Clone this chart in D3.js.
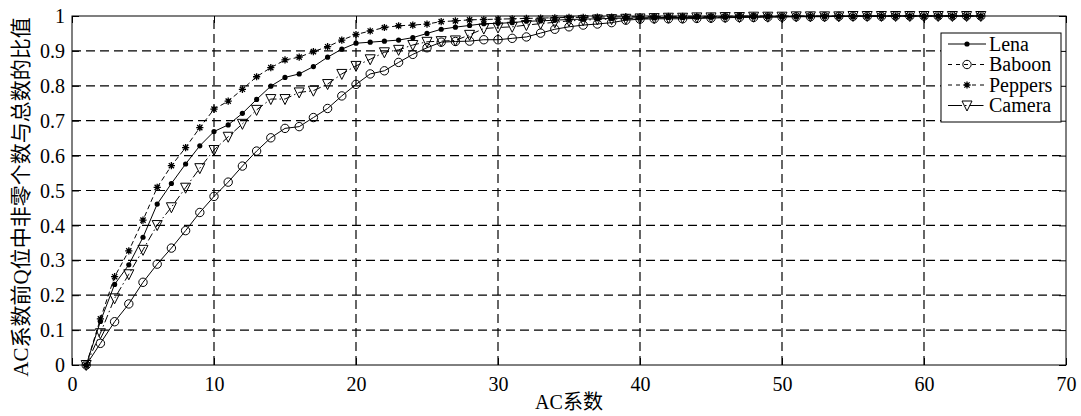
<!DOCTYPE html>
<html>
<head>
<meta charset="utf-8">
<script src="https://cdn.jsdelivr.net/npm/d3@7/dist/d3.min.js"></script>
<style>
  html, body { margin: 0; padding: 0; background: #fff; }
  svg { display: block; }
  text { font-family: "Liberation Serif", "Noto Sans CJK SC", serif; fill: #000; }
</style>
</head>
<body>
<svg id="chart" width="1081" height="416"></svg>
<script>
// ---------- data ----------
const acIndex = [1,2,3,4,5,6,7,8,9,10,11,12,13,14,15,16,17,18,19,20,21,22,23,24,25,26,27,28,29,30,31,32,
  33,34,35,36,37,38,39,40,41,42,43,44,45,46,47,48,49,50,51,52,53,54,55,56,57,58,59,60,61,62,63,64];

const lena = [0, 0.125, 0.231, 0.287, 0.366, 0.461, 0.520, 0.576, 0.628, 0.669,
  0.688, 0.721, 0.761, 0.799, 0.824, 0.834, 0.855, 0.882, 0.905, 0.922,
  0.925, 0.928, 0.931, 0.938, 0.950, 0.962, 0.968, 0.973, 0.978, 0.979,
  0.981, 0.985, 0.986, 0.988, 0.990, 0.991, 0.992, 0.993, 0.994, 0.995,
  0.995, 0.996, 0.996, 0.997, 0.997, 0.997, 0.998, 0.998, 0.998, 0.998,
  0.999, 0.999, 0.999, 0.999, 0.999, 1, 1, 1, 1, 1,
  1, 1, 1, 1];

const baboon = [0, 0.062, 0.124, 0.175, 0.237, 0.289, 0.335, 0.385, 0.437, 0.483,
  0.524, 0.570, 0.613, 0.651, 0.678, 0.683, 0.709, 0.735, 0.771, 0.804,
  0.834, 0.843, 0.867, 0.890, 0.909, 0.925, 0.927, 0.928, 0.932, 0.932,
  0.936, 0.940, 0.951, 0.962, 0.969, 0.974, 0.977, 0.981, 0.988, 0.991,
  0.992, 0.992, 0.992, 0.993, 0.994, 0.995, 0.996, 0.996, 0.997, 0.997,
  0.998, 0.998, 0.998, 0.999, 0.999, 0.999, 0.999, 1, 1, 1,
  1, 1, 1, 1];

const peppers = [0, 0.132, 0.253, 0.327, 0.415, 0.509, 0.571, 0.623, 0.680, 0.733,
  0.756, 0.790, 0.826, 0.852, 0.874, 0.882, 0.898, 0.912, 0.931, 0.947,
  0.957, 0.967, 0.972, 0.974, 0.977, 0.984, 0.986, 0.989, 0.990, 0.991,
  0.992, 0.993, 0.994, 0.995, 0.996, 0.996, 0.997, 0.997, 0.998, 0.998,
  0.998, 0.999, 0.999, 0.999, 0.999, 0.999, 1, 1, 1, 1,
  1, 1, 1, 1, 1, 1, 1, 1, 1, 1,
  1, 1, 1, 1];

const camera = [0, 0.091, 0.191, 0.260, 0.330, 0.401, 0.452, 0.508, 0.564, 0.616,
  0.654, 0.691, 0.731, 0.762, 0.762, 0.781, 0.786, 0.805, 0.834, 0.857,
  0.876, 0.896, 0.903, 0.917, 0.926, 0.928, 0.930, 0.946, 0.964, 0.967,
  0.969, 0.974, 0.978, 0.982, 0.986, 0.988, 0.990, 0.991, 0.992, 0.993,
  0.994, 0.995, 0.995, 0.996, 0.996, 0.997, 0.997, 0.998, 0.998, 0.998,
  0.999, 0.999, 0.999, 0.999, 1, 1, 1, 1, 1, 1,
  1, 1, 1, 1];

const seriesNames = ["Lena", "Baboon", "Peppers", "Camera"];
const xTicks = [0, 10, 20, 30, 40, 50, 60, 70];
const yTicks = [0, 0.1, 0.2, 0.3, 0.4, 0.5, 0.6, 0.7, 0.8, 0.9, 1];
const xTitle = "AC系数";
const yTitle = "AC系数前Q位中非零个数与总数的比值";

// ---------- layout ----------
const svg = d3.select("#chart");
const L = 72, R = 1066, T = 16, B = 365;
const x = d3.scaleLinear().domain([0, 70]).range([L, R]);
const y = d3.scaleLinear().domain([0, 1]).range([B, T]);

svg.append("rect").attr("width", 1081).attr("height", 416).attr("fill", "#fff");

// grid
const grid = svg.append("g").attr("stroke", "#000").attr("stroke-width", 1.2)
  .attr("stroke-dasharray", "9,5").attr("fill", "none");
xTicks.filter(t => t > 0 && t < 70).forEach(t => {
  grid.append("line").attr("x1", x(t)).attr("x2", x(t)).attr("y1", B).attr("y2", T);
});
yTicks.filter(t => t > 0 && t < 1).forEach(t => {
  grid.append("line").attr("x1", L).attr("x2", R).attr("y1", y(t)).attr("y2", y(t));
});

// axes (inward ticks)
const fmt = d => d3.format("~g")(d);
const gx = svg.append("g").attr("transform", `translate(0,${B})`)
  .call(d3.axisBottom(x).tickValues(xTicks).tickFormat(fmt).tickSizeInner(-7).tickSizeOuter(0).tickPadding(12));
const gxt = svg.append("g").attr("transform", `translate(0,${T})`)
  .call(d3.axisTop(x).tickValues(xTicks).tickFormat("").tickSizeInner(-7).tickSizeOuter(0));
const gy = svg.append("g").attr("transform", `translate(${L},0)`)
  .call(d3.axisLeft(y).tickValues(yTicks).tickFormat(fmt).tickSizeInner(-7).tickSizeOuter(0).tickPadding(7));
const gyr = svg.append("g").attr("transform", `translate(${R},0)`)
  .call(d3.axisRight(y).tickValues(yTicks).tickFormat("").tickSizeInner(-7).tickSizeOuter(0));
[gx, gxt, gy, gyr].forEach(g => {
  g.select(".domain").remove();
  g.selectAll("line").attr("stroke", "#000").attr("stroke-width", 1);
  g.selectAll("text").attr("font-size", 20).attr("fill", "#000")
    .style("font-family", "'Liberation Serif', serif");
});
gy.selectAll("text").attr("dy", "0.33em");
gx.selectAll("text").attr("dy", "0.71em");

// box
svg.append("rect").attr("x", L).attr("y", T).attr("width", R - L).attr("height", B - T)
  .attr("fill", "none").attr("stroke", "#000").attr("stroke-width", 1);

// markers
function drawMarker(g, type, cx, cy) {
  if (type === "dot") {
    g.append("circle").attr("cx", cx).attr("cy", cy).attr("r", 2.6).attr("fill", "#000");
  } else if (type === "circle") {
    g.append("circle").attr("cx", cx).attr("cy", cy).attr("r", 4.2)
      .attr("fill", "none").attr("stroke", "#000").attr("stroke-width", 1);
  } else if (type === "star") {
    const s = 3.6, d = 2.6;
    g.append("path").attr("d",
      `M${cx - s},${cy}L${cx + s},${cy}M${cx},${cy - s}L${cx},${cy + s}` +
      `M${cx - d},${cy - d}L${cx + d},${cy + d}M${cx - d},${cy + d}L${cx + d},${cy - d}`)
      .attr("stroke", "#000").attr("stroke-width", 1.3).attr("fill", "none");
  } else if (type === "tri") {
    const w = 5, h = 4.5;
    g.append("path").attr("d", `M${cx - w},${cy - h}L${cx + w},${cy - h}L${cx},${cy + h + 1}Z`)
      .attr("stroke", "#000").attr("stroke-width", 1).attr("fill", "none");
  }
}

const styles = {
  Lena:    { data: lena,    dash: null,        legendDash: null,        marker: "dot" },
  Baboon:  { data: baboon,  dash: null,        legendDash: "4,4",       marker: "circle" },
  Peppers: { data: peppers, dash: "5,3",       legendDash: "4,4",       marker: "star" },
  Camera:  { data: camera,  dash: "8,3,1.5,3", legendDash: "14,3,1.5,3", marker: "tri" }
};

const line = d3.line().x(d => x(d[0])).y(d => y(d[1]));
seriesNames.forEach(name => {
  const st = styles[name];
  const pts = acIndex.map((k, i) => [k, st.data[i]]);
  const g = svg.append("g");
  g.append("path").attr("d", line(pts)).attr("fill", "none").attr("stroke", "#000")
    .attr("stroke-width", 1).attr("stroke-dasharray", st.dash);
  pts.forEach(p => drawMarker(g, st.marker, x(p[0]), y(p[1])));
});

// legend
const lg = svg.append("g");
lg.append("rect").attr("x", 941).attr("y", 33).attr("width", 120).attr("height", 89)
  .attr("fill", "#fff").attr("stroke", "#000").attr("stroke-width", 1);
seriesNames.forEach((name, i) => {
  const st = styles[name];
  const ry = 44 + i * 20.5;
  lg.append("line").attr("x1", 948).attr("x2", 986).attr("y1", ry).attr("y2", ry)
    .attr("stroke", "#000").attr("stroke-width", 1).attr("stroke-dasharray", st.legendDash);
  drawMarker(lg, st.marker, 967, ry);
  lg.append("text").attr("x", 989).attr("y", ry).attr("dy", "0.33em")
    .attr("font-size", 20).text(name);
});

// titles
svg.append("text").attr("x", (L + R) / 2).attr("y", 409).attr("text-anchor", "middle")
  .attr("font-size", 20).text(xTitle);
svg.append("text").attr("transform", `translate(28,${197}) rotate(-90)`)
  .attr("text-anchor", "middle").attr("font-size", 21).text(yTitle);
</script>
</body>
</html>
